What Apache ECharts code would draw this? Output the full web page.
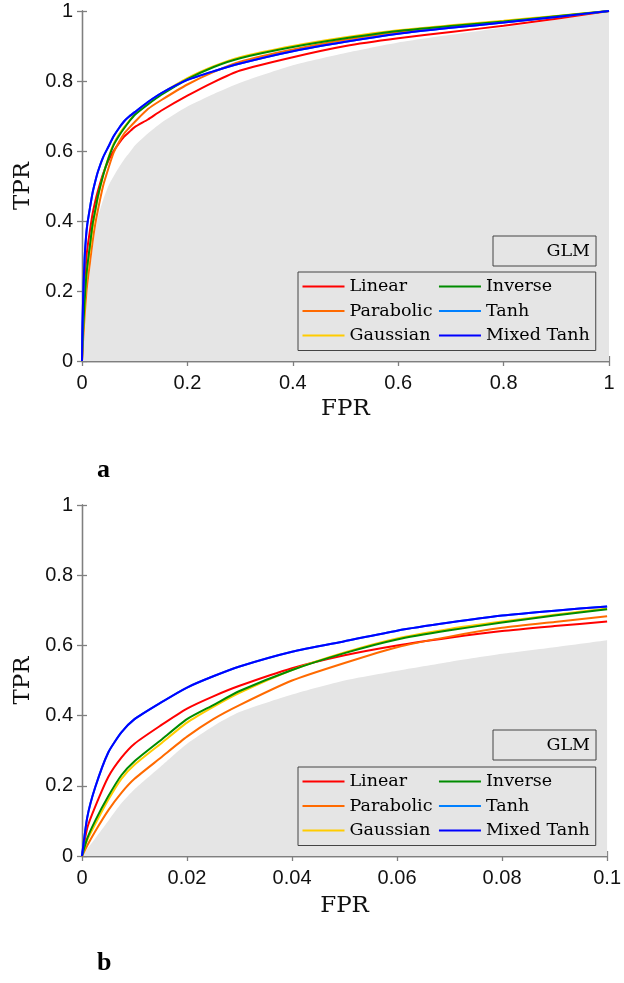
<!DOCTYPE html>
<html>
<head>
<meta charset="utf-8">
<script src="https://cdn.jsdelivr.net/npm/echarts@6/dist/echarts.min.js"></script>
<style>
html,body{margin:0;padding:0;background:#fff;}
#chart{width:624px;height:983px;}
</style>
</head>
<body>
<div id="chart"></div>
<script>
// ---- Data ----
const seriesNames = ['Linear', 'Parabolic', 'Gaussian', 'Inverse', 'Tanh', 'Mixed Tanh'];
const seriesColors = ['#ff0000', '#ff6a00', '#ffcc00', '#008c00', '#0080ff', '#0000ff'];
const glmColor = '#e5e5e5';

// low-FPR region (panel b, also start of panel a)
const fprLow = [0, 0.001, 0.0025, 0.005, 0.0075, 0.01, 0.015, 0.02, 0.025, 0.03, 0.04, 0.05, 0.06, 0.07, 0.08, 0.09, 0.1];
const glmLow       = [0, 0.02, 0.05, 0.10, 0.15, 0.19, 0.255, 0.32, 0.37, 0.41, 0.46, 0.50, 0.528, 0.553, 0.576, 0.595, 0.615];
const linearLow    = [0, 0.08, 0.14, 0.225, 0.28, 0.32, 0.372, 0.42, 0.455, 0.485, 0.535, 0.572, 0.60, 0.622, 0.641, 0.655, 0.668];
const parabolicLow = [0, 0.03, 0.07, 0.13, 0.18, 0.22, 0.28, 0.34, 0.39, 0.43, 0.50, 0.55, 0.595, 0.625, 0.65, 0.667, 0.683];
const gaussianLow  = [0, 0.045, 0.09, 0.16, 0.22, 0.26, 0.32, 0.38, 0.425, 0.465, 0.53, 0.58, 0.62, 0.647, 0.668, 0.687, 0.705];
const inverseLow   = [0, 0.05, 0.10, 0.17, 0.23, 0.27, 0.33, 0.39, 0.43, 0.47, 0.53, 0.578, 0.617, 0.643, 0.665, 0.685, 0.703];
const tanhLow      = [0, 0.11, 0.195, 0.295, 0.352, 0.39, 0.437, 0.48, 0.512, 0.54, 0.582, 0.612, 0.642, 0.665, 0.685, 0.699, 0.711];
const mixedTanhLow = [0, 0.11, 0.195, 0.295, 0.352, 0.39, 0.437, 0.48, 0.512, 0.54, 0.582, 0.612, 0.642, 0.665, 0.685, 0.699, 0.711];

// remaining FPR range (panel a only)
const fprHigh = [0.125, 0.15, 0.2, 0.25, 0.3, 0.4, 0.5, 0.6, 0.7, 0.8, 0.9, 1];
const glmHigh       = [0.65, 0.68, 0.727, 0.763, 0.795, 0.845, 0.88, 0.91, 0.932, 0.953, 0.975, 1];
const linearHigh    = [0.69, 0.715, 0.758, 0.797, 0.83, 0.868, 0.90, 0.922, 0.94, 0.958, 0.978, 1];
const parabolicHigh = [0.72, 0.745, 0.79, 0.826, 0.855, 0.89, 0.918, 0.94, 0.955, 0.968, 0.984, 1];
const gaussianHigh  = [0.735, 0.763, 0.808, 0.842, 0.868, 0.90, 0.925, 0.945, 0.959, 0.972, 0.986, 1];
const inverseHigh   = [0.733, 0.76, 0.805, 0.84, 0.865, 0.897, 0.922, 0.943, 0.957, 0.97, 0.985, 1];
const tanhHigh      = [0.74, 0.765, 0.803, 0.828, 0.85, 0.885, 0.912, 0.935, 0.952, 0.967, 0.983, 1];
const mixedTanhHigh = [0.74, 0.765, 0.803, 0.828, 0.85, 0.885, 0.912, 0.935, 0.952, 0.967, 0.983, 1];

const xTicksA = {min: 0, max: 1, interval: 0.2};
const xTicksB = {min: 0, max: 0.1, interval: 0.02};
const yTicks = {min: 0, max: 1, interval: 0.2};

const lowSets = [linearLow, parabolicLow, gaussianLow, inverseLow, tanhLow, mixedTanhLow];
const highSets = [linearHigh, parabolicHigh, gaussianHigh, inverseHigh, tanhHigh, mixedTanhHigh];

// ---- Build ----
function pairs(xs, ys) { return xs.map((x, i) => [x, ys[i]]); }
const fprA = fprLow.concat(fprHigh);

const axisColor = '#7f7f7f';
const labelFont = {fontFamily: 'Liberation Sans', fontSize: 20, color: '#111'};
const nameFont = {fontFamily: 'DejaVu Serif', fontSize: 23, color: '#111'};

function xAxisPair(grid, ticks, nameGap) {
  return [
    {type: 'value', gridIndex: grid, position: 'bottom', min: ticks.min, max: ticks.max, interval: ticks.interval,
     name: 'FPR', nameLocation: 'middle', nameGap: nameGap, nameTextStyle: nameFont,
     axisLine: {show: true, lineStyle: {color: axisColor, width: 1.3}},
     axisTick: {show: true, inside: true, length: 5, lineStyle: {color: axisColor, width: 1.3}},
     axisLabel: Object.assign({margin: 12}, labelFont), splitLine: {show: false}},
    {type: 'value', gridIndex: grid, position: 'top', min: ticks.min, max: ticks.max, interval: ticks.interval,
     axisLine: {show: true, lineStyle: {color: axisColor, width: 1.3}},
     axisTick: {show: true, inside: true, length: 5, lineStyle: {color: axisColor, width: 1.3}},
     axisLabel: {show: false}, splitLine: {show: false}}
  ];
}
function yAxisPair(grid) {
  return [
    {type: 'value', gridIndex: grid, position: 'left', min: yTicks.min, max: yTicks.max, interval: yTicks.interval,
     name: 'TPR', nameLocation: 'middle', nameGap: 46, nameTextStyle: nameFont,
     axisLine: {show: true, lineStyle: {color: axisColor, width: 1.3}},
     axisTick: {show: true, inside: true, length: 5, lineStyle: {color: axisColor, width: 1.3}},
     axisLabel: Object.assign({margin: 9}, labelFont), splitLine: {show: false}},
    {type: 'value', gridIndex: grid, position: 'right', min: yTicks.min, max: yTicks.max, interval: yTicks.interval,
     axisLine: {show: true, lineStyle: {color: axisColor, width: 1.3}},
     axisTick: {show: true, inside: true, length: 5, lineStyle: {color: axisColor, width: 1.3}},
     axisLabel: {show: false}, splitLine: {show: false}}
  ];
}

const series = [];
function addPanel(axisIdx, xs, ysets, glm) {
  series.push({
    name: 'GLM', type: 'line', xAxisIndex: axisIdx, yAxisIndex: axisIdx,
    data: pairs(xs, glm), symbol: 'none', color: glmColor, smooth: 0.2,
    lineStyle: {width: 0, color: glmColor}, areaStyle: {color: glmColor, opacity: 1},
    z: 1, silent: true, animation: false
  });
  seriesNames.forEach((n, i) => {
    series.push({
      name: n, type: 'line', xAxisIndex: axisIdx, yAxisIndex: axisIdx,
      data: pairs(xs, ysets[i]), symbol: 'none', showSymbol: false, color: seriesColors[i], smooth: 0.2,
      lineStyle: {width: 2, color: seriesColors[i]}, z: 3 + i, animation: false
    });
  });
}
addPanel(0, fprA, lowSets.map((l, i) => l.concat(highSets[i])), glmLow.concat(glmHigh));
addPanel(2, fprLow, lowSets, glmLow);

const lineIcon = 'path://M0,0 L42,0 L42,2 L0,2 Z';
const legendText = {fontFamily: 'DejaVu Serif', fontSize: 17.5, color: '#000'};
function legendsFor(glmTop, mainTop) {
  return [
    {data: [{name: 'GLM', icon: 'rect', itemStyle: {color: glmColor, borderWidth: 0}}],
     left: 493, top: glmTop, itemWidth: 44, itemHeight: 17, padding: [6, 6, 6, 4.5],
     borderColor: '#444', borderWidth: 1, backgroundColor: 'transparent', textStyle: legendText,
     selectedMode: false},
    {data: seriesNames.map((n, i) => ({name: n, icon: lineIcon, itemStyle: {color: seriesColors[i], borderWidth: 0}})),
     orient: 'vertical', left: 298, top: mainTop, height: 70,
     itemWidth: 42, itemHeight: 14, itemGap: 6.5, padding: [5.5, 6, 6, 4.5], symbolKeepAspect: true,
     borderColor: '#444', borderWidth: 1, backgroundColor: 'transparent', textStyle: legendText,
     selectedMode: false}
  ];
}

const option = {
  animation: false,
  backgroundColor: '#ffffff',
  grid: [
    {left: 82, top: 11, width: 527, height: 350},
    {left: 82, top: 505, width: 527, height: 351}
  ],
  xAxis: xAxisPair(0, xTicksA, 37).concat(xAxisPair(1, xTicksB, 39)),
  yAxis: yAxisPair(0).concat(yAxisPair(1)),
  legend: legendsFor(236, 272).concat(legendsFor(730, 767)),
  series: series,
  graphic: [
    {type: 'text', left: 97, top: 457, style: {text: 'a', font: 'bold 26px "Liberation Serif"', fill: '#000'}},
    {type: 'text', left: 97, top: 950, style: {text: 'b', font: 'bold 26px "Liberation Serif"', fill: '#000'}}
  ]
};

const chart = echarts.init(document.getElementById('chart'), null, {renderer: 'canvas'});
chart.setOption(option);
</script>
</body>
</html>
